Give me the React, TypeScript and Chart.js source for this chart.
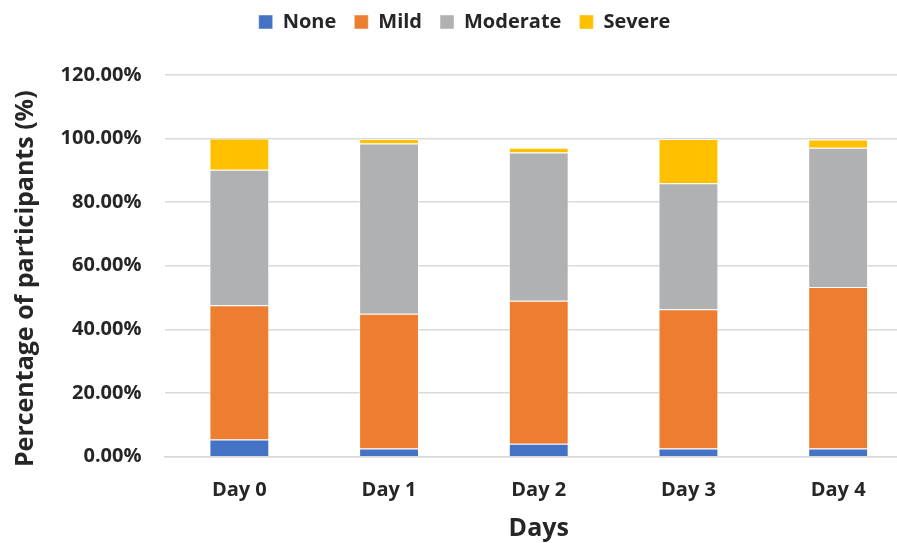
import React, { useEffect, useRef } from 'react';
import { Chart, registerables } from 'chart.js';

Chart.register(...registerables);

// Share of participants per severity level on each day (percent)
const days = ['Day 0', 'Day 1', 'Day 2', 'Day 3', 'Day 4'];
const noneValues = [5.4, 2.6, 4.1, 2.6, 2.6];
const mildValues = [42.2, 42.3, 44.9, 43.7, 50.7];
const moderateValues = [42.6, 53.5, 46.6, 39.6, 43.8];
const severeValues = [9.8, 1.4, 1.5, 13.9, 2.6];

const seriesNames = ['None', 'Mild', 'Moderate', 'Severe'];
const seriesColors = ['#4472C4', '#ED7D31', '#B0B1B3', '#FFC000'];

const yTickMax = 120;
const yTickStep = 20;

const FONT = '"Open Sans", "Liberation Sans", sans-serif';
const TEXT = '#262626';
const GRID = '#D9D9D9';

// Extra space kept between the legend row and the plot area
const legendGap = {
  id: 'legendGap',
  beforeLayout(chart: any) {
    const lg = chart.legend;
    if (lg && !lg.__gapApplied) {
      const fit = lg.fit.bind(lg);
      lg.fit = function () {
        fit();
        this.height += 32.8;
      };
      lg.__gapApplied = true;
    }
  },
};

export default function App() {
  const canvasRef = useRef<HTMLCanvasElement>(null);

  useEffect(() => {
    const values = [noneValues, mildValues, moderateValues, severeValues];
    const chart = new Chart(canvasRef.current!, {
      type: 'bar',
      data: {
        labels: days,
        datasets: seriesNames.map((name, i) => ({
          label: name,
          data: values[i],
          backgroundColor: seriesColors[i],
          borderColor: 'rgba(255,255,255,0.45)',
          borderWidth: 1,
          categoryPercentage: 1,
          barPercentage: 0.4,
        })),
      },
      plugins: [legendGap],
      options: {
        responsive: false,
        animation: false,
        layout: { padding: { left: 16, right: 7, top: 0, bottom: 0 } },
        plugins: {
          tooltip: { enabled: false },
          legend: {
            position: 'top',
            align: 'center',
            labels: {
              boxWidth: 14,
              boxHeight: 14,
              padding: 18,
              color: TEXT,
              font: { family: FONT, size: 20, weight: 'bold' },
            },
          },
        },
        scales: {
          x: {
            stacked: true,
            grid: { display: false },
            border: { display: true, color: GRID, width: 1.5 },
            ticks: {
              color: TEXT,
              padding: 14,
              font: { family: FONT, size: 20, weight: 'bold' },
            },
            title: {
              display: true,
              text: 'Days',
              color: TEXT,
              padding: { top: 0, bottom: -1 },
              font: { family: FONT, size: 25, weight: 'bold' },
            },
            afterFit: (s: any) => {
              s.height = 86.3;
            },
          },
          y: {
            stacked: true,
            min: 0,
            max: yTickMax,
            grid: { color: GRID, lineWidth: 1.5, drawTicks: false },
            border: { display: false },
            ticks: {
              stepSize: yTickStep,
              padding: 23,
              color: TEXT,
              font: { family: FONT, size: 20, weight: 'bold' },
              callback: (v: any) => Number(v).toFixed(2) + '%',
            },
            title: {
              display: true,
              // trailing spaces sit the rotated title a little below the axis centre
              text: 'Percentage of participants (%)    ',
              color: TEXT,
              padding: 0,
              font: { family: FONT, size: 25, weight: 'bold', lineHeight: 0.8 },
            },
            afterFit: (s: any) => {
              s.width = 148.5;
            },
          },
        },
      },
    });
    return () => chart.destroy();
  }, []);

  return (
    <div
      style={{
        position: 'fixed',
        left: 0,
        top: 0,
        width: 897,
        height: 543,
        overflow: 'hidden',
        background: '#ffffff',
      }}
    >
      <div style={{ position: 'absolute', left: 0, top: -6, width: 920, height: 549 }}>
        <canvas ref={canvasRef} width={920} height={549} style={{ display: 'block' }} />
      </div>
    </div>
  );
}
